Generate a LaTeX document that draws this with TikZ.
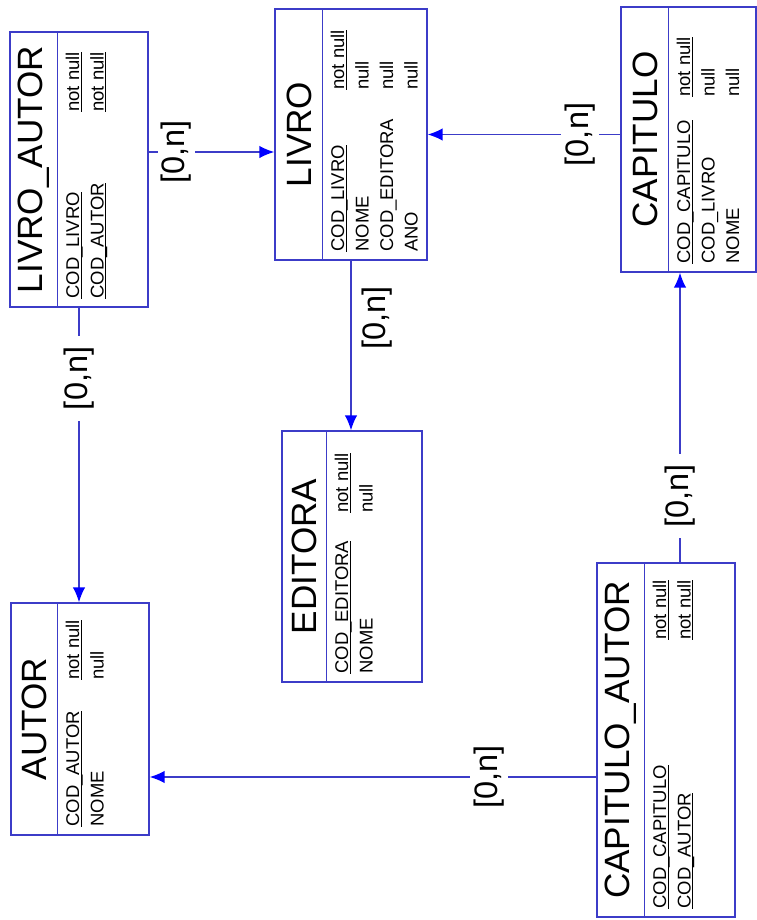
\documentclass[tikz,border=0pt]{standalone}
\usepackage{fontspec}
\setmainfont{Liberation Sans}
\usetikzlibrary{arrows.meta}
\definecolor{linha}{RGB}{60,60,200}
\definecolor{ponta}{RGB}{0,0,255}
\newcommand{\chave}[1]{\setbox0\hbox{#1}\rlap{\rule[-1.6pt]{\wd0}{0.5pt}}#1}

\begin{document}
\begin{tikzpicture}[x=0.02cm,y=-0.02cm,
        tabela/.style={draw=linha,line width=0.8pt,rectangle,inner sep=0pt},
        divisao/.style={draw=linha,line width=0.8pt},
        titulo/.style={rotate=90,inner sep=0pt,font=\fontsize{20}{24}\selectfont},
        campo/.style={rotate=90,anchor=base west,inner sep=0pt,font=\fontsize{10.5}{12}\selectfont},
        rel/.style={draw=linha,line width=0.8pt,-{Latex[length=3mm,width=2.5mm,color=ponta]}},
        card/.style={rotate=90,fill=white,inner xsep=6pt,inner ysep=2pt,font=\fontsize{18.5}{22}\selectfont}]
        \useasboundingbox (0,0) rectangle (757,920);

        % LIVRO_AUTOR
        \node[tabela,minimum width=2.76cm,minimum height=5.5cm] (livroautor) at (79,169.5){};
        \draw[divisao] (livroautor.north west) ++(48,0) -- ++(0,275);
        \node[titulo] (tLivroAutor) at (34,169.5){LIVRO\_AUTOR};
        \node[campo] (la1) at (79,299){\chave{COD\_LIVRO}};
        \node[campo] (la2) at (103.5,299){\chave{COD\_AUTOR}};
        \node[campo] (la1t) at (79,112){\chave{not null}};
        \node[campo] (la2t) at (103.5,112){\chave{not null}};

        % LIVRO
        \node[tabela,minimum width=3.04cm,minimum height=5.02cm] (livro) at (351,134.5){};
        \draw[divisao] (livro.north west) ++(48,0) -- ++(0,251);
        \node[titulo] (tLivro) at (299,134.5){LIVRO};
        \node[campo] (li1) at (344,252){\chave{COD\_LIVRO}};
        \node[campo] (li2) at (368.5,252){NOME};
        \node[campo] (li3) at (393,252){COD\_EDITORA};
        \node[campo] (li4) at (417.5,252){ANO};
        \node[campo] (li1t) at (344,90){\chave{not null}};
        \node[campo] (li2t) at (368.5,90){null};
        \node[campo] (li3t) at (393,90){null};
        \node[campo] (li4t) at (417.5,90){null};

        % CAPITULO
        \node[tabela,minimum width=2.7cm,minimum height=5.3cm] (capitulo) at (688.5,139.5){};
        \draw[divisao] (capitulo.north west) ++(48,0) -- ++(0,265);
        \node[titulo] (tCapitulo) at (645,139.5){CAPITULO};
        \node[campo] (ca1) at (690,264){\chave{COD\_CAPITULO}};
        \node[campo] (ca2) at (714.5,264){COD\_LIVRO};
        \node[campo] (ca3) at (739,264){NOME};
        \node[campo] (ca1t) at (690,97){\chave{not null}};
        \node[campo] (ca2t) at (714.5,97){null};
        \node[campo] (ca3t) at (739,97){null};

        % EDITORA
        \node[tabela,minimum width=2.8cm,minimum height=5.02cm] (editora) at (352,556.5){};
        \draw[divisao] (editora.north west) ++(45,0) -- ++(0,251);
        \node[titulo] (tEditora) at (304.5,556.5){EDITORA};
        \node[campo] (ed1) at (348,674){\chave{COD\_EDITORA}};
        \node[campo] (ed2) at (372.5,674){NOME};
        \node[campo] (ed1t) at (348,513){\chave{not null}};
        \node[campo] (ed2t) at (372.5,513){null};

        % AUTOR
        \node[tabela,minimum width=2.76cm,minimum height=4.64cm] (autor) at (80,719){};
        \draw[divisao] (autor.north west) ++(47,0) -- ++(0,232);
        \node[titulo] (tAutor) at (34.5,719){AUTOR};
        \node[campo] (au1) at (79,827){\chave{COD\_AUTOR}};
        \node[campo] (au2) at (103.5,827){NOME};
        \node[campo] (au1t) at (79,680){\chave{not null}};
        \node[campo] (au2t) at (103.5,680){null};

        % CAPITULO_AUTOR
        \node[tabela,minimum width=2.76cm,minimum height=7.08cm] (capautor) at (666,740){};
        \draw[divisao] (capautor.north west) ++(48,0) -- ++(0,354);
        \node[titulo] (tCapAutor) at (621,740){CAPITULO\_AUTOR};
        \node[campo] (cau1) at (666,909){\chave{COD\_CAPITULO}};
        \node[campo] (cau2) at (690.5,909){\chave{COD\_AUTOR}};
        \node[campo] (cau1t) at (666,640){\chave{not null}};
        \node[campo] (cau2t) at (690.5,640){\chave{not null}};

        % relacionamentos
        \coordinate (p1) at ([yshift=0.35cm]livroautor.east);
        \draw[rel] (p1) -- (p1 -| livro.west) node[card,pos=0.22] (c1){[0,n]};
        \draw[rel] (livroautor.south) -- (livroautor.south |- autor.north) node[card,pos=0.24] (c2){[0,n]};
        \draw[rel] (livro.south) -- (livro.south |- editora.north) node[card,fill=none,inner ysep=5.7pt,anchor=north,pos=0.34] (c3){[0,n]};
        \draw[rel] (livro.east -| capitulo.west) -- (livro.east) node[card,pos=0.21] (c4){[0,n]};
        \coordinate (p5) at ([xshift=0.28cm]capautor.north);
        \draw[rel] (p5) -- (p5 |- capitulo.south) node[card,pos=0.23] (c5){[0,n]};
        \coordinate (p6) at ([yshift=-0.74cm]capautor.west);
        \draw[rel] (p6) -- (p6 -| autor.east) node[card,pos=0.24] (c6){[0,n]};
    \end{tikzpicture}
\end{document}
